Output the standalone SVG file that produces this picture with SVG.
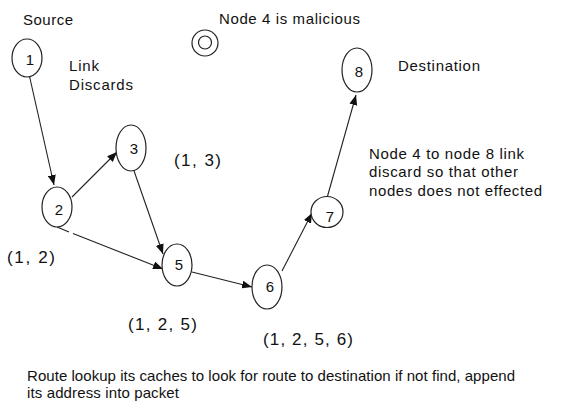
<svg xmlns="http://www.w3.org/2000/svg" width="563" height="405" viewBox="0 0 563 405">
  <style>
    text { font-family: "Liberation Sans", Arial, sans-serif; font-size: 15px; fill: #111; }
    .lbl { text-anchor: middle; }
    .path-label { font-size: 17px; }
    .node ellipse, .node circle { fill: #fff; stroke: #222; stroke-width: 1.2; }
    .edge { fill: none; stroke: #222; stroke-width: 1.1; marker-end: url(#arrow); }
  </style>
  <defs>
    <marker id="arrow" viewBox="0 0 10 8" refX="10" refY="4" markerWidth="10" markerHeight="8" markerUnits="userSpaceOnUse" orient="auto">
      <path d="M0,0 L10,4 L0,8 Z" fill="#111"/>
    </marker>
  </defs>

  <rect width="563" height="405" fill="#fff"/>

  <!-- connectors -->
  <g id="edges">
    <path class="edge" d="M29,74 L54,185"/>
    <path class="edge" d="M72,197 L117,152"/>
    <path class="edge" d="M57,227 L69,232 M73,233.5 L163,269"/>
    <path class="edge" d="M133,168 L163,254"/>
    <path class="edge" d="M192,272 L252,287"/>
    <path class="edge" d="M282,271 L312,213"/>
    <path class="edge" d="M327,198 L356,95"/>
  </g>

  <!-- nodes -->
  <g id="node1" class="node">
    <ellipse cx="27" cy="58" rx="15" ry="19"/>
    <text class="lbl" x="30" y="65">1</text>
  </g>
  <g id="node2" class="node">
    <ellipse cx="57" cy="207" rx="15" ry="20"/>
    <text class="lbl" x="59" y="215">2</text>
  </g>
  <g id="node3" class="node">
    <ellipse cx="131" cy="148" rx="15" ry="23"/>
    <text class="lbl" x="134" y="154">3</text>
  </g>
  <g id="node4" class="node">
    <circle cx="205" cy="43" r="13"/>
    <circle cx="205" cy="42.5" r="6.5"/>
  </g>
  <g id="node5" class="node">
    <ellipse cx="177" cy="265" rx="15" ry="21"/>
    <text class="lbl" x="179" y="270">5</text>
  </g>
  <g id="node6" class="node">
    <ellipse cx="267" cy="287" rx="15" ry="22"/>
    <text class="lbl" x="270" y="292">6</text>
  </g>
  <g id="node7" class="node">
    <ellipse cx="327" cy="212" rx="16" ry="15.5"/>
    <text class="lbl" x="330" y="222">7</text>
  </g>
  <g id="node8" class="node">
    <ellipse cx="357" cy="70" rx="15" ry="22"/>
    <text class="lbl" x="359" y="77">8</text>
  </g>

  <!-- annotations -->
  <g id="labels">
    <text x="23" y="25" textLength="50" lengthAdjust="spacing">Source</text>
    <text x="69" y="71" textLength="30" lengthAdjust="spacing">Link</text>
    <text x="69" y="90" textLength="64" lengthAdjust="spacing">Discards</text>
    <text x="219" y="24" textLength="141" lengthAdjust="spacing">Node 4 is malicious</text>
    <text x="398" y="71" textLength="82" lengthAdjust="spacing">Destination</text>
    <text x="369" y="159" textLength="155" lengthAdjust="spacing">Node 4 to node 8 link</text>
    <text x="369" y="177" textLength="149" lengthAdjust="spacing">discard so that other</text>
    <text x="369" y="196" textLength="173" lengthAdjust="spacing">nodes does not effected</text>
    <text class="path-label" x="174" y="166" textLength="47" lengthAdjust="spacing">(1, 3)</text>
    <text class="path-label" x="7" y="263" textLength="48" lengthAdjust="spacing">(1, 2)</text>
    <text class="path-label" x="128" y="330" textLength="69" lengthAdjust="spacing">(1, 2, 5)</text>
    <text class="path-label" x="263" y="345" textLength="90" lengthAdjust="spacing">(1, 2, 5, 6)</text>
    <text x="27" y="381" textLength="488" lengthAdjust="spacing">Route lookup its caches to look for route to destination if not find, append</text>
    <text x="27" y="398" textLength="152" lengthAdjust="spacing">its address into packet</text>
  </g>
</svg>
